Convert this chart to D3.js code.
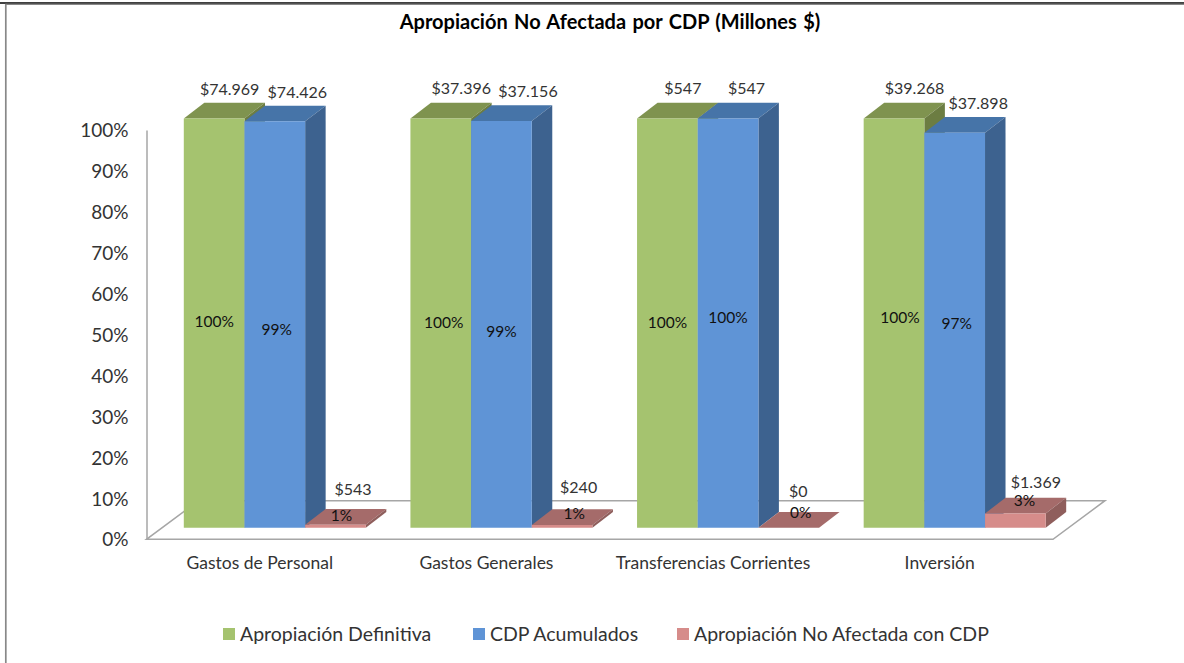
<!DOCTYPE html>
<html>
<head>
<meta charset="utf-8">
<script src="https://d3js.org/d3.v7.min.js"></script>
<style>
  body { margin: 0; background: #fff; }
  svg { display: block; }
  text { font-family: Lato, "Open Sans", sans-serif; fill: #333; }
</style>
</head>
<body>
<script>
// Data (millones $)
const categories = ["Gastos de Personal", "Gastos Generales", "Transferencias Corrientes", "Inversión"];
const seriesNames = ["Apropiación Definitiva", "CDP Acumulados", "Apropiación No Afectada con CDP"];
const apropiacion = [74969, 37396, 547, 39268];
const cdp = [74426, 37156, 547, 37898];
const noAfectada = [543, 240, 0, 1369];
const yTicks = [0, 0.1, 0.2, 0.3, 0.4, 0.5, 0.6, 0.7, 0.8, 0.9, 1];
const seriesValues = [apropiacion, cdp, noAfectada];

const width = 1184, height = 663;

// Colours: front, top, side of each series
const faces = [
    {front: "#a5c36f", top: "#7f934f", side: "#6c7d42"},
    {front: "#5f94d6", top: "#4674a8", side: "#3d628f"},
    {front: "#d68c8a", top: "#a56b6a", side: "#8f5e5c"}
];

// 3D look of the excel chart
const floorDepth = {dx: 52, dy: 38.6};  // whole floor
const barShift = {dx: 15, dy: 11.6};    // floor edge to bar front
const barDepth = {dx: 20.5, dy: 15.7};  // bar front to bar back

const svg = d3.select("body").append("svg")
    .attr("width", width)
    .attr("height", height);

// Frame of the pasted picture
svg.append("line").attr("x1", 0).attr("x2", width).attr("y1", 3).attr("y2", 3)
    .attr("stroke", "#000").attr("stroke-width", 1.4);
svg.append("line").attr("x1", 6).attr("x2", width).attr("y1", 4.3).attr("y2", 4.3)
    .attr("stroke", "#888").attr("stroke-width", 1.3);
svg.append("line").attr("x1", 5.8).attr("x2", 5.8).attr("y1", 3.7).attr("y2", height)
    .attr("stroke", "#888").attr("stroke-width", 1.7);

// Title
svg.append("text")
    .attr("x", 610)
    .attr("y", 29)
    .attr("text-anchor", "middle")
    .style("font-size", "20px")
    .style("font-weight", "bold")
    .style("word-spacing", "1.5px")
    .style("fill", "#000")
    .text("Apropiación No Afectada por CDP (Millones $)");

// Scales
const x0 = d3.scaleBand().domain(categories).range([146.5, 1053]);
const x1 = d3.scaleBand().domain(seriesNames).range([22.3 + barShift.dx, x0.bandwidth() - 22.3 + barShift.dx]);
const y = d3.scaleLinear().domain([0, 1]).range([539.3, 130]);

// Floor
const floorLeft = x0.range()[0], floorRight = x0.range()[1], floorY = y(0);
svg.append("path")
    .attr("d", "M" + floorLeft + "," + floorY +
        "L" + floorRight + "," + floorY +
        "L" + (floorRight + floorDepth.dx) + "," + (floorY - floorDepth.dy) +
        "L" + (floorLeft + floorDepth.dx) + "," + (floorY - floorDepth.dy) + "Z")
    .attr("fill", "none")
    .attr("stroke", "#a6a6a6")
    .attr("stroke-width", 1.5);

// Axes
const yAxis = svg.append("g")
    .attr("transform", "translate(" + floorLeft + ",0)")
    .call(d3.axisLeft(y).tickValues(yTicks).tickFormat(d3.format(".0%")).tickSize(0).tickPadding(18));
yAxis.select(".domain").attr("stroke", "#a6a6a6").attr("stroke-width", 1.5);
yAxis.selectAll("text").style("font-size", "19px").style("font-family", null).attr("dy", "0.35em").attr("fill", null);

const xAxis = svg.append("g")
    .attr("transform", "translate(0," + floorY + ")")
    .call(d3.axisBottom(x0).tickSize(0).tickPadding(17));
xAxis.select(".domain").remove();
xAxis.selectAll("text").style("font-size", "17.5px").style("font-family", null).attr("fill", null);

// Manual label moves, the labels were dragged by hand in the original
const amountMoves = [
    [[-5, 0], [0, -1], [-5, -1], [0, -1]],
    [[2, 0], [6, 0], [-2, -1], [3, 0]],
    [[-3, 0], [-4, -2], [-11, -1], [0, 4]]
];
const percentMoves = [
    [[0, -1], [3, 0], [0, 0], [6, -5]],
    [[2, 5], [0, 8], [0, -5], [2, -6]],
    [[6, 3], [12, 1], [12, -3], [9, 0]]
];

const barWidth = x1.bandwidth();
const money = v => "$" + d3.format(",")(v).replace(/,/g, ".");

// Bars, drawn group by group so the nearer faces land on top
categories.forEach((cat, c) => {
    seriesNames.forEach((name, s) => {
        const value = seriesValues[s][c];
        const share = value / apropiacion[c];
        const left = x0(cat) + x1(name);
        const right = left + barWidth;
        const bottom = y(0) - barShift.dy;
        const top = y(share) - barShift.dy;
        const dx = barDepth.dx, dy = barDepth.dy;

        const bar = svg.append("g").attr("class", "bar");
        const polygon = (points, fill) => bar.append("polygon")
            .attr("points", points.map(p => p.join(",")).join(" "))
            .attr("fill", fill);

        polygon([[left, top], [right, top], [right + dx, top - dy], [left + dx, top - dy]], faces[s].top);
        polygon([[right, top], [right + dx, top - dy], [right + dx, bottom - dy], [right, bottom]], faces[s].side);
        polygon([[left, top], [right, top], [right, bottom], [left, bottom]], faces[s].front);
    });
});

// Labels go last so bars never cover them
categories.forEach((cat, c) => {
    seriesNames.forEach((name, s) => {
        const value = seriesValues[s][c];
        const share = value / apropiacion[c];
        const center = x0(cat) + x1(name) + barWidth / 2;
        const bottom = y(0) - barShift.dy;
        const top = y(share) - barShift.dy;

        svg.append("text")
            .attr("x", center + barDepth.dx + amountMoves[s][c][0])
            .attr("y", top - barDepth.dy - (s === 2 ? 14 : 8) + amountMoves[s][c][1])
            .attr("text-anchor", "middle")
            .style("font-size", "16px")
            .text(money(value));

        svg.append("text")
            .attr("x", center + percentMoves[s][c][0])
            .attr("y", (s === 2 ? top - 7 : (top + bottom) / 2 + 5) + percentMoves[s][c][1])
            .attr("text-anchor", "middle")
            .style("font-size", "15.5px")
            .style("fill", "#111")
            .text(d3.format(".0%")(share));
    });
});

// Legend
const legendX = [223, 473, 677];
const legend = svg.selectAll(".legend")
    .data(seriesNames)
    .enter().append("g")
    .attr("class", "legend")
    .attr("transform", (d, i) => "translate(" + legendX[i] + ",628)");

legend.append("rect")
    .attr("width", 12)
    .attr("height", 12)
    .attr("fill", (d, i) => faces[i].front);

legend.append("text")
    .attr("x", 17)
    .attr("y", 12.5)
    .style("font-size", "19.5px")
    .text(d => d);
</script>
</body>
</html>
